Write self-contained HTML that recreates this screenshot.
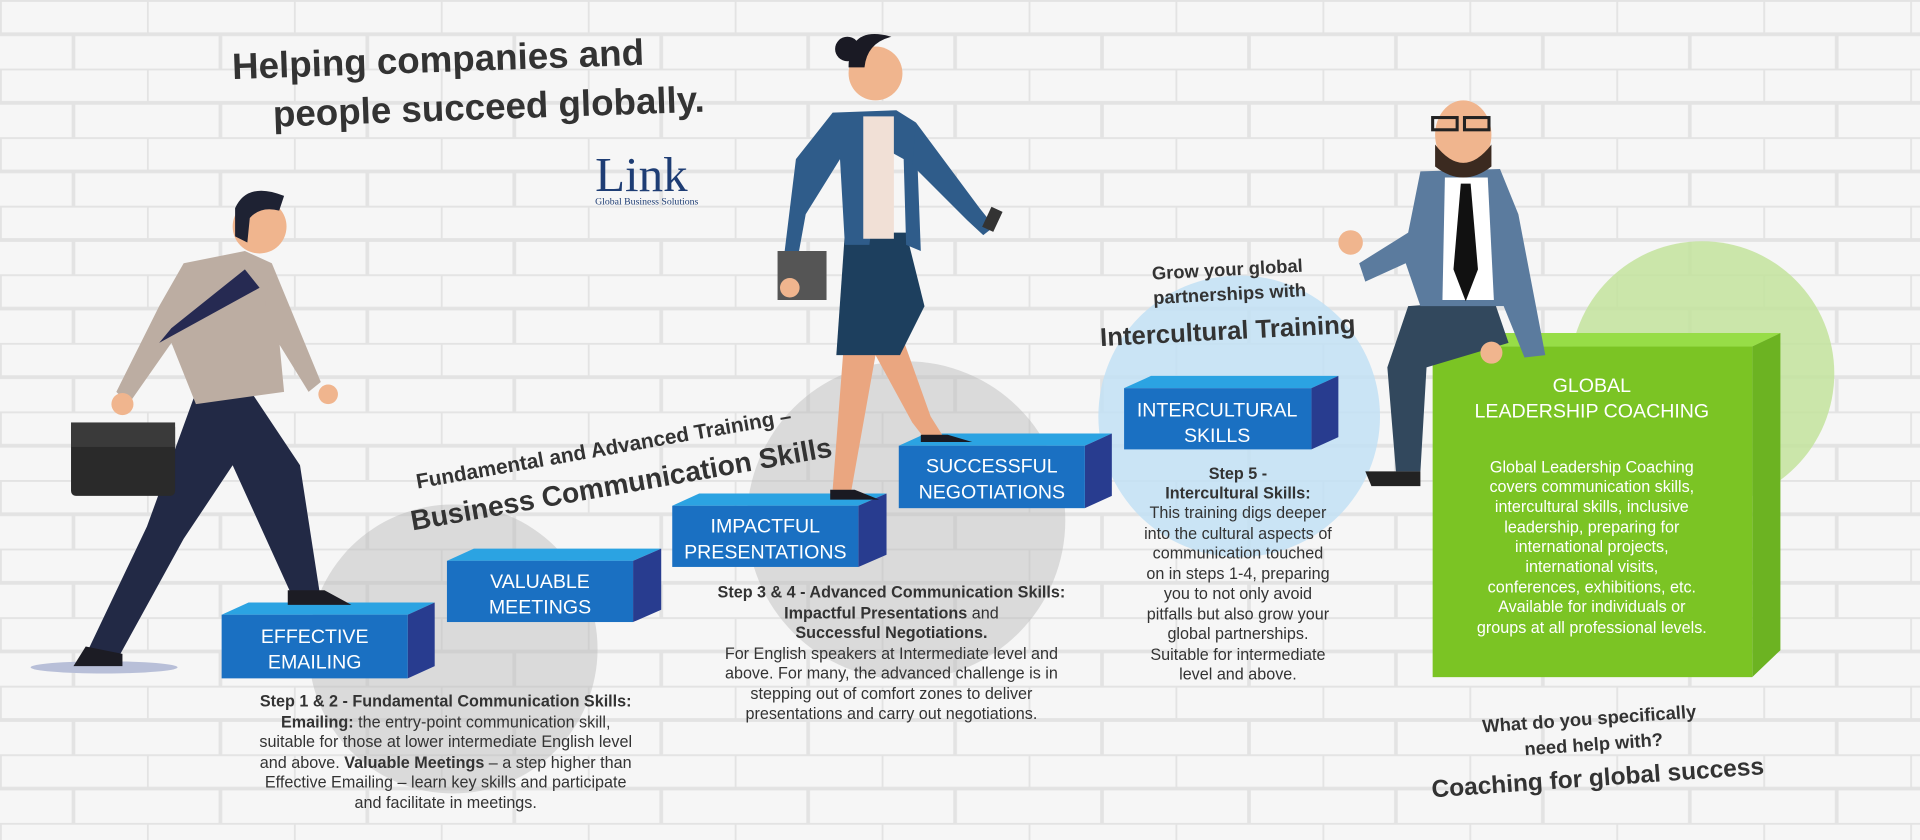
<!DOCTYPE html>
<html><head><meta charset="utf-8"><style>
html,body{margin:0;padding:0;width:1920px;height:840px;overflow:hidden;background:#f5f5f5}
svg{display:block}
.h{font-family:"Liberation Sans",sans-serif;font-weight:bold;fill:#333}
.bl{font-family:"Liberation Sans",sans-serif;fill:#fff;font-size:16px;text-anchor:middle}
.t{font-family:"Liberation Sans",sans-serif;fill:#333;font-size:13.2px;text-anchor:middle}
.tb{font-weight:bold}
</style></head><body>
<svg width="1920" height="840" viewBox="0 0 1568 686" xmlns="http://www.w3.org/2000/svg">
<defs>
<pattern id="brick" width="120" height="56" patternUnits="userSpaceOnUse">
<rect width="120" height="56" fill="#f6f6f6"/>
<path d="M0 0H120M0 28H120M0 0V28M60 28V56" stroke="#e3e3e3" stroke-width="3" fill="none"/>
</pattern>
</defs>
<rect width="1568" height="686" fill="url(#brick)"/>
<circle cx="370" cy="530" r="118" fill="#b9b9b9" opacity="0.45"/>
<circle cx="740" cy="425" r="130" fill="#b9b9b9" opacity="0.45"/>
<circle cx="1012" cy="340" r="115" fill="#bfe0f5" opacity="0.8"/>
<circle cx="1390" cy="305" r="108" fill="#c3e39c" opacity="0.85"/>
<ellipse cx="85" cy="545" rx="60" ry="5" fill="#b8bfd8"/>

<g transform="rotate(-2 380 65)">
<text class="h" x="190" y="58" font-size="30">Helping companies and</text>
<text class="h" x="222" y="98" font-size="30">people succeed globally.</text>
</g>
<text x="486" y="156" font-family="Liberation Serif,serif" font-size="40" fill="#1e3d74">Link</text>
<text x="486" y="167" font-family="Liberation Serif,serif" font-size="8" fill="#1e3d74">Global Business Solutions</text>

<g>
<polygon points="181,502 203,492 355,492 333,502" fill="#2ba3e2"/>
<polygon points="333,502 355,492 355,544 333,554" fill="#283c8f"/>
<rect x="181" y="502" width="152" height="52" fill="#1a70c2"/>
<text class="bl" x="257" y="525">EFFECTIVE</text><text class="bl" x="257" y="546">EMAILING</text>

<polygon points="365,458 387,448 540,448 517,458" fill="#2ba3e2"/>
<polygon points="517,458 540,448 540,498 517,508" fill="#283c8f"/>
<rect x="365" y="458" width="152" height="50" fill="#1a70c2"/>
<text class="bl" x="441" y="480">VALUABLE</text><text class="bl" x="441" y="501">MEETINGS</text>

<polygon points="549,413 571,403 724,403 701,413" fill="#2ba3e2"/>
<polygon points="701,413 724,403 724,453 701,463" fill="#283c8f"/>
<rect x="549" y="413" width="152" height="50" fill="#1a70c2"/>
<text class="bl" x="625" y="435">IMPACTFUL</text><text class="bl" x="625" y="456">PRESENTATIONS</text>

<polygon points="734,364 756,354 908,354 886,364" fill="#2ba3e2"/>
<polygon points="886,364 908,354 908,405 886,415" fill="#283c8f"/>
<rect x="734" y="364" width="152" height="51" fill="#1a70c2"/>
<text class="bl" x="810" y="386">SUCCESSFUL</text><text class="bl" x="810" y="407">NEGOTIATIONS</text>

<polygon points="918,317 940,307 1093,307 1071,317" fill="#2ba3e2"/>
<polygon points="1071,317 1093,307 1093,357 1071,367" fill="#283c8f"/>
<rect x="918" y="317" width="153" height="50" fill="#1a70c2"/>
<text class="bl" x="994" y="340">INTERCULTURAL</text><text class="bl" x="994" y="361">SKILLS</text>

<polygon points="1170,283 1194,272 1454,272 1431,283" fill="#97dd47"/>
<polygon points="1431,283 1454,272 1454,531 1431,553" fill="#6cb322"/>
<rect x="1170" y="283" width="261" height="270" fill="#7bc424"/>
<text class="bl" x="1300" y="320" font-size="17">GLOBAL</text>
<text class="bl" x="1300" y="341" font-size="17">LEADERSHIP COACHING</text>
<g class="t" style="fill:#fff">
<text x="1300" y="386">Global Leadership Coaching</text>
<text x="1300" y="402">covers communication skills,</text>
<text x="1300" y="418">intercultural skills, inclusive</text>
<text x="1300" y="435">leadership, preparing for</text>
<text x="1300" y="451">international projects,</text>
<text x="1300" y="467">international visits,</text>
<text x="1300" y="484">conferences, exhibitions, etc.</text>
<text x="1300" y="500">Available for individuals or</text>
<text x="1300" y="517">groups at all professional levels.</text>
</g>
</g>

<g class="t">
<text x="364" y="577" class="t tb">Step 1 &amp; 2 - Fundamental Communication Skills:</text>
<text x="364" y="594"><tspan class="tb">Emailing:</tspan> the entry-point communication skill,</text>
<text x="364" y="610">suitable for those at lower intermediate English level</text>
<text x="364" y="627">and above. <tspan class="tb">Valuable Meetings</tspan> – a step higher than</text>
<text x="364" y="643">Effective Emailing – learn key skills and participate</text>
<text x="364" y="660">and facilitate in meetings.</text>

<text x="728" y="488" class="t tb">Step 3 &amp; 4 - Advanced Communication Skills:</text>
<text x="728" y="505"><tspan class="tb">Impactful Presentations</tspan> and</text>
<text x="728" y="521" class="t tb">Successful Negotiations.</text>
<text x="728" y="538">For English speakers at Intermediate level and</text>
<text x="728" y="554">above. For many, the advanced challenge is in</text>
<text x="728" y="571">stepping out of comfort zones to deliver</text>
<text x="728" y="587">presentations and carry out negotiations.</text>

<text x="1011" y="391" class="t tb">Step 5 -</text>
<text x="1011" y="407" class="t tb">Intercultural Skills:</text>
<text x="1011" y="423">This training digs deeper</text>
<text x="1011" y="440">into the cultural aspects of</text>
<text x="1011" y="456">communication touched</text>
<text x="1011" y="473">on in steps 1-4, preparing</text>
<text x="1011" y="489">you to not only avoid</text>
<text x="1011" y="506">pitfalls but also grow your</text>
<text x="1011" y="522">global partnerships.</text>
<text x="1011" y="539">Suitable for intermediate</text>
<text x="1011" y="555">level and above.</text>
</g>

<g transform="rotate(-10 495 380)">
<text class="h" x="340" y="372" font-size="17" font-weight="normal">Fundamental and Advanced Training –</text>
<text class="h" x="330" y="405" font-size="23">Business Communication Skills</text>
</g>
<g transform="rotate(-3 1025 245)">
<text class="h" x="942" y="224" font-size="15" font-weight="normal">Grow your global</text>
<text class="h" x="942" y="244" font-size="15" font-weight="normal">partnerships with</text>
<text class="h" x="897" y="276" font-size="21" font-weight="normal">Intercultural Training</text>
</g>
<g transform="rotate(-4 1300 610)">
<text class="h" x="1212" y="592" font-size="15">What do you specifically</text>
<text class="h" x="1245" y="613" font-size="15">need help with?</text>
<text class="h" x="1167" y="642" font-size="20">Coaching for global success</text>
</g>

<g>
<path d="M160 320 L120 430 L70 535 L95 540 L150 440 L190 380 L240 490 L262 490 L245 380 L205 320Z" fill="#222945"/>
<path d="M235 482 h30 l22 12 h-52z" fill="#1c1c24"/>
<path d="M70 528 l30 6 v10 h-40z" fill="#1c1c24"/>
<path d="M150 215 L200 205 L222 215 L232 320 L160 330 L140 280 L105 330 L95 320 L130 250Z" fill="#bcada2"/>
<path d="M222 215 L262 312 L252 320 L215 260Z" fill="#bcada2"/>
<path d="M200 220 L212 235 L130 280 L140 268Z" fill="#262a52"/>
<circle cx="212" cy="185" r="22" fill="#f0b58e"/>
<path d="M192 170 q10 -22 40 -10 l-4 12 q-15 -4 -24 6 l-2 20 -10 -5z" fill="#1e2233"/>
<rect x="58" y="345" width="85" height="60" rx="4" fill="#2a2a2a"/>
<rect x="58" y="345" width="85" height="20" fill="#3a3a3a"/>
<circle cx="100" cy="330" r="9" fill="#f0b58e"/>
<circle cx="268" cy="322" r="8" fill="#f0b58e"/>
</g>

<g>
<path d="M690 270 L680 400 L695 402 L715 290 L745 345 L755 358 L770 356 L760 340 L735 270Z" fill="#eaa680"/>
<path d="M678 400 h20 l20 8 h-40z M752 355 h22 l20 6 h-42z" fill="#1a1a22"/>
<path d="M690 190 L740 190 L755 250 L735 290 L683 290Z" fill="#1d3f5e"/>
<path d="M680 92 L732 90 L748 100 L752 205 L740 200 L738 130 L720 120 L710 200 L690 200 L686 130 L658 175 L648 230 L638 228 L650 130Z" fill="#2f5c8a"/>
<path d="M748 100 L800 170 L812 185 L803 192 L790 180 L745 135Z" fill="#2f5c8a"/>
<path d="M705 95 h25 v100 h-25z" fill="#f1e0d6"/>
<circle cx="715" cy="60" r="22" fill="#f0b58e"/>
<path d="M693 55 q0 -35 35 -25 q-20 5 -22 25z" fill="#1a1a24"/>
<circle cx="692" cy="40" r="10" fill="#1a1a24"/>
<path d="M635 205 h40 v40 h-40z" fill="#555"/>
<circle cx="645" cy="235" r="8" fill="#f0b58e"/>
<rect x="805" y="170" width="10" height="18" fill="#333" transform="rotate(25 810 180)"/>
</g>

<g>
<path d="M1150 250 L1220 245 L1232 280 L1165 300 L1160 385 L1140 385 L1133 300Z" fill="#32485d"/>
<path d="M1115 385 h45 v12 h-40z" fill="#222"/>
<path d="M1160 140 L1225 138 L1240 175 L1262 290 L1245 292 L1228 250 L1160 250 L1148 215 L1115 230 L1110 215 L1150 190Z" fill="#5b7b9e"/>
<path d="M1180 145 h35 l5 100 h-42z" fill="#fff"/>
<path d="M1193 150 h8 l6 70 l-10 26 l-10 -26z" fill="#111"/>
<circle cx="1103" cy="198" r="10" fill="#f0b58e"/>
<circle cx="1218" cy="288" r="9" fill="#f0b58e"/>
<ellipse cx="1195" cy="110" rx="23" ry="28" fill="#f0b58e"/>
<path d="M1172 118 q23 30 46 0 l0 18 q-23 18 -46 0z" fill="#3b2a20"/>
<rect x="1170" y="96" width="20" height="10" fill="none" stroke="#222" stroke-width="2.5"/>
<rect x="1196" y="96" width="20" height="10" fill="none" stroke="#222" stroke-width="2.5"/>
</g>
</svg>
</body></html>
